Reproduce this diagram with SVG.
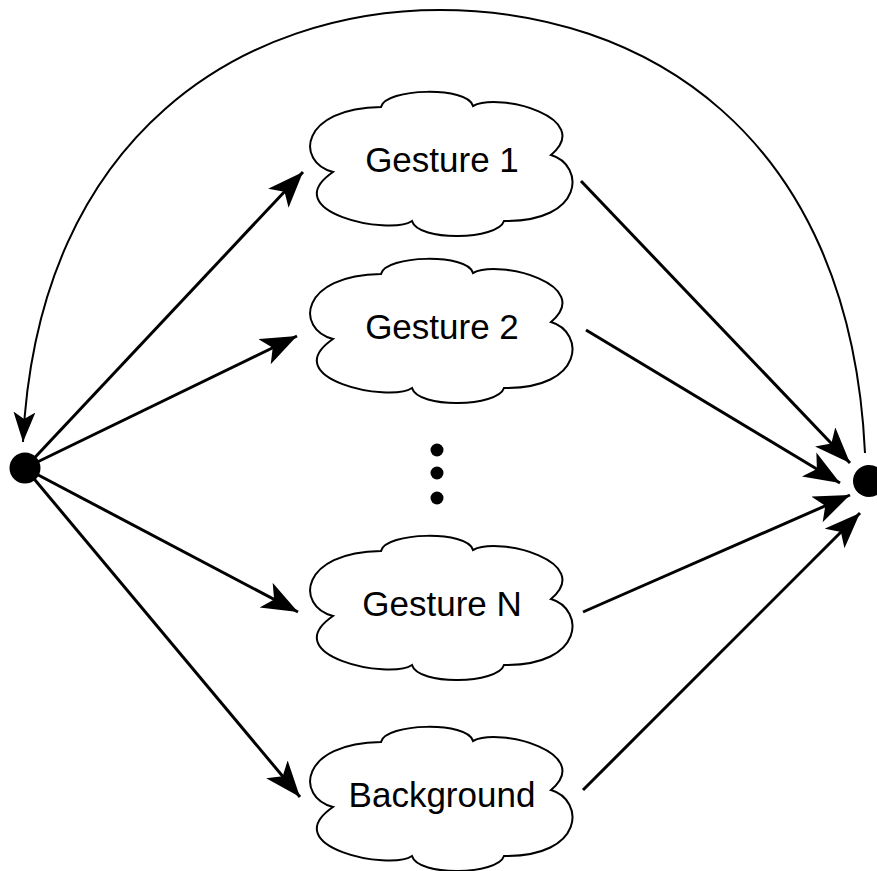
<svg xmlns="http://www.w3.org/2000/svg" xmlns:xlink="http://www.w3.org/1999/xlink" width="877" height="871" viewBox="0 0 877 871">
<style>
.cloud{fill:#fff;stroke:#000;stroke-width:2}
.lbl{font-family:"Liberation Sans",Arial,sans-serif;font-size:35px;fill:#000;text-anchor:middle}
.edge{fill:none;stroke:#000;stroke-width:3}
.arc{fill:none;stroke:#000;stroke-width:2}
.dot{fill:#000}
</style>
<defs>
<marker id="ah" markerUnits="userSpaceOnUse" markerWidth="40" markerHeight="30" refX="36" refY="14" orient="auto" viewBox="0 0 40 30">
<path d="M36,14 L0,0 L9,14 L0,28 Z" fill="#000"/>
</marker>
<marker id="ahs" markerUnits="userSpaceOnUse" markerWidth="32" markerHeight="24" refX="30" refY="11" orient="auto" viewBox="0 0 32 24">
<path d="M30,11 L0,0 L7,11 L0,22 Z" fill="#000"/>
</marker>
<path id="cloudShape" d="M333,172 C295,162 300,108 381,107 C385,88 468,86 473,106 C500,92 595,118 551,155 C585,165 585,222 504,221 C498,240 418,242 412,221 C390,236 275,212 333,172 Z"/>
</defs>
<g id="connectors">
<path class="arc" d="M865,453 C850,130 640,10 440,10 C248,10 38,130 23,442" marker-end="url(#ahs)"/>
<line class="edge" x1="25" y1="468" x2="303" y2="172" marker-end="url(#ah)"/>
<line class="edge" x1="25" y1="468" x2="297" y2="336" marker-end="url(#ah)"/>
<line class="edge" x1="25" y1="468" x2="298" y2="612" marker-end="url(#ah)"/>
<line class="edge" x1="25" y1="468" x2="300" y2="797" marker-end="url(#ah)"/>
<line class="edge" x1="581" y1="181" x2="850" y2="463" marker-end="url(#ah)"/>
<line class="edge" x1="586" y1="330" x2="840" y2="483" marker-end="url(#ah)"/>
<line class="edge" x1="583" y1="612" x2="850" y2="495" marker-end="url(#ah)"/>
<line class="edge" x1="583" y1="790" x2="860" y2="513" marker-end="url(#ah)"/>
</g>
<g id="start"><circle class="dot" cx="25" cy="468" r="15.5"/></g>
<g id="end"><circle class="dot" cx="869" cy="481" r="16"/></g>
<g id="gesture1"><use xlink:href="#cloudShape" class="cloud"/><text class="lbl" x="442" y="172">Gesture 1</text></g>
<g id="gesture2" transform="translate(0,167)"><use xlink:href="#cloudShape" class="cloud"/><text class="lbl" x="442" y="172">Gesture 2</text></g>
<g id="ellipsis"><circle class="dot" cx="437" cy="450" r="6.5"/><circle class="dot" cx="437" cy="473" r="6.5"/><circle class="dot" cx="437" cy="498" r="6.5"/></g>
<g id="gestureN" transform="translate(0,444)"><use xlink:href="#cloudShape" class="cloud"/><text class="lbl" x="442" y="172">Gesture N</text></g>
<g id="background" transform="translate(0,635)"><use xlink:href="#cloudShape" class="cloud"/><text class="lbl" x="442" y="172">Background</text></g>
</svg>
